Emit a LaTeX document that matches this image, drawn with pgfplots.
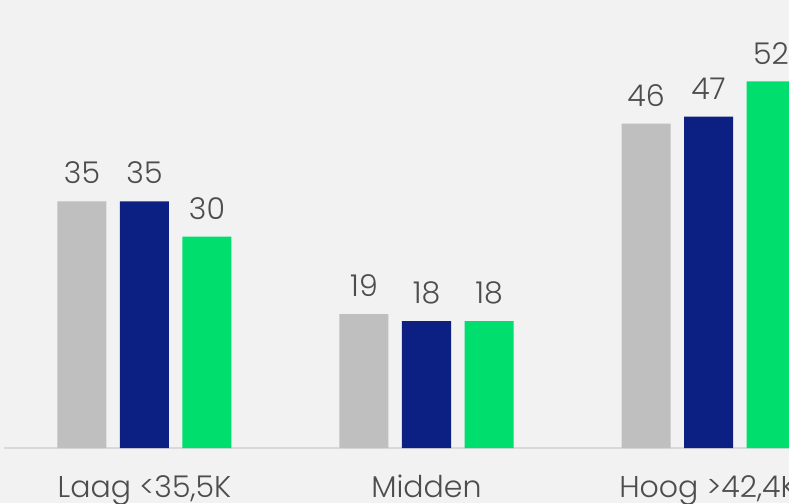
\documentclass[border=0pt]{standalone}
\usepackage{pgfplots}
\pgfplotsset{compat=1.18}
\usepackage{fontspec}
\setmainfont{Poppins Light}
\definecolor{bg}{HTML}{F2F2F2}
\definecolor{cgrey}{HTML}{BFBFBF}
\definecolor{cnavy}{HTML}{0C1F82}
\definecolor{cgreen}{HTML}{00DE6E}
\definecolor{txt}{HTML}{4D4D4D}
\definecolor{basel}{HTML}{D9D9D9}
\begin{document}
\begin{tikzpicture}[x=1pt,y=1pt]
\path[use as bounding box] (0,0) rectangle (789,503);
\clip (0,0) rectangle (789,503);
\fill[bg] (0,0) rectangle (789,503);
\begin{axis}[
  at={(0pt,55pt)}, anchor=south west,
  scale only axis, width=789pt, height=448pt,
  xmin=-0.5124, xmax=2.2855, ymin=0, ymax=63.55,
  axis line style={draw=none},
  major tick length=0pt,
  ytick=\empty,
  xtick={0,1,2},
  xticklabels={Laag <35{,}5K, Midden, Hoog >42{,}4K},
  xticklabel style={anchor=base, yshift=-49pt, font=\fontsize{30}{33}\selectfont, text=txt},
  /pgf/number format/assume math mode=true,
  ybar, bar width=49pt,
  nodes near coords,
  nodes near coords style={anchor=south, inner sep=0pt, yshift=17pt, font=\fontsize{30}{33}\selectfont, text=txt},
  clip=false,
]
\draw[basel, line width=1.5pt] (axis cs:-0.4985,0) -- (axis cs:2.3,0);
\addplot[fill=cgrey, draw=none, bar shift=-62.5pt] coordinates {(0,35) (1,19) (2,46)};
\addplot[fill=cnavy, draw=none, bar shift=0pt] coordinates {(0,35) (1,18) (2,47)};
\addplot[fill=cgreen, draw=none, bar shift=62.5pt] coordinates {(0,30) (1,18) (2,52)};
\end{axis}
\end{tikzpicture}
\end{document}
